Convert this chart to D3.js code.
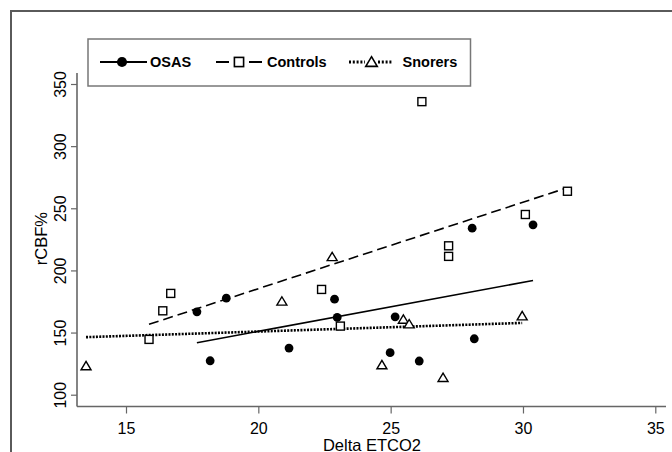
<!DOCTYPE html>
<html>
<head>
<meta charset="utf-8">
<script src="https://cdn.jsdelivr.net/npm/d3@7"></script>
<style>
  body { margin: 0; background: #fff; }
  svg { font-family: "Liberation Sans", Arial, sans-serif; }
</style>
</head>
<body>
<svg width="672" height="452"></svg>
<script>
// values
var osasX = [17.68, 18.79, 18.18, 21.16, 22.88, 22.98, 28.08, 30.38, 25.17, 28.16, 24.98, 26.08];
var osasY = [166.7, 177.7, 127.3, 137.5, 176.9, 162.2, 234.0, 236.7, 162.7, 145.0, 133.8, 127.1];

var controlsX = [16.69, 16.39, 15.87, 22.39, 23.10, 26.18, 31.68, 30.09, 27.19, 27.19];
var controlsY = [181.5, 167.5, 144.5, 184.7, 155.2, 335.8, 263.7, 245.0, 219.8, 211.3];

var snorersX = [13.49, 20.89, 22.79, 25.48, 25.70, 29.97, 24.67, 26.98];
var snorersY = [123.1, 175.1, 210.9, 160.6, 156.8, 163.3, 123.9, 113.7];

var xTicks = [15, 20, 25, 30, 35];
var yTicks = [100, 150, 200, 250, 300, 350];

var svg = d3.select("svg");

var x = d3.scaleLinear().domain([15, 35]).range([126, 655.3]);
var y = d3.scaleLinear().domain([100, 350]).range([394.7, 84]);

function pairs(xs, ys) {
  return xs.map(function(v, i) { return {x: v, y: ys[i]}; });
}

// least squares fit over the group's own x range
function fit(pts) {
  var mx = d3.mean(pts, function(d) { return d.x; }),
      my = d3.mean(pts, function(d) { return d.y; });
  var sxy = d3.sum(pts, function(d) { return (d.x - mx) * (d.y - my); }),
      sxx = d3.sum(pts, function(d) { return (d.x - mx) * (d.x - mx); });
  var b = sxy / sxx, a = my - b * mx;
  var ext = d3.extent(pts, function(d) { return d.x; });
  return ext.map(function(v) { return {x: v, y: a + b * v}; });
}

var groups = [
  {name: "OSAS", pts: pairs(osasX, osasY), dash: null, width: 1.6, shape: "circle"},
  {name: "Controls", pts: pairs(controlsX, controlsY), dash: "10,5", width: 1.6, shape: "square"},
  {name: "Snorers", pts: pairs(snorersX, snorersY), dash: "2,1.3", width: 2.6, shape: "triangle"}
];

// outer frame (clipped at right and bottom)
svg.append("path")
  .attr("d", "M11,460 L11,11 L680,11")
  .attr("fill", "none")
  .attr("stroke", "#5a5a5a")
  .attr("stroke-width", 2);

// axes
var axisCol = "#666";
svg.append("line")
  .attr("x1", 77).attr("x2", 666).attr("y1", 406.5).attr("y2", 406.5)
  .attr("stroke", axisCol).attr("stroke-width", 1.6);
svg.append("line")
  .attr("x1", 77).attr("x2", 77).attr("y1", 73).attr("y2", 406.5)
  .attr("stroke", axisCol).attr("stroke-width", 1.6);

var xAxis = svg.append("g")
  .attr("transform", "translate(0,406.5)")
  .call(d3.axisBottom(x).tickValues(xTicks).tickSize(7).tickPadding(5));
xAxis.select(".domain").remove();
xAxis.selectAll("line").attr("stroke", axisCol).attr("stroke-width", 1.2);
xAxis.selectAll("text")
  .attr("fill", "#000")
  .style("font-size", "16px")
  .attr("dy", null)
  .attr("y", 27.5);

var yAxis = svg.append("g")
  .attr("transform", "translate(77,0)")
  .call(d3.axisLeft(y).tickValues(yTicks).tickSize(6));
yAxis.select(".domain").remove();
yAxis.selectAll("line").attr("stroke", axisCol).attr("stroke-width", 1.2);
yAxis.selectAll("text")
  .attr("fill", "#000")
  .style("font-size", "16px")
  .attr("x", null).attr("dy", null)
  .attr("text-anchor", "middle")
  .attr("transform", "translate(-11.5,0) rotate(-90)");

svg.append("text")
  .attr("x", 372).attr("y", 450.5)
  .attr("text-anchor", "middle")
  .style("font-size", "16.5px")
  .text("Delta ETCO2");

svg.append("text")
  .attr("transform", "translate(47.3,238.7) rotate(-90)")
  .attr("text-anchor", "middle")
  .style("font-size", "16.5px")
  .text("rCBF%");

// fit lines
var line = d3.line()
  .x(function(d) { return x(d.x); })
  .y(function(d) { return y(d.y); });

groups.forEach(function(g) {
  svg.append("path")
    .datum(fit(g.pts))
    .attr("d", line)
    .attr("fill", "none")
    .attr("stroke", "#000")
    .attr("stroke-width", g.width)
    .attr("stroke-dasharray", g.dash);
});

function marker(sel, shape, s) {
  s = s || 1;
  if (shape === "circle") {
    sel.append("circle").attr("r", 4.4 * s).attr("fill", "#000");
  } else if (shape === "square") {
    sel.append("rect")
      .attr("x", -4 * s).attr("y", -4 * s).attr("width", 8 * s).attr("height", 8 * s)
      .attr("fill", "#fff").attr("stroke", "#000").attr("stroke-width", 1.4 * s);
  } else {
    sel.append("path")
      .attr("d", "M0," + (-4.6 * s) + " L" + (5 * s) + "," + (3.8 * s) + " L" + (-5 * s) + "," + (3.8 * s) + " Z")
      .attr("fill", "#fff").attr("stroke", "#000").attr("stroke-width", 1.4 * s);
  }
}

groups.forEach(function(g) {
  svg.selectAll(".pt-" + g.name)
    .data(g.pts)
    .enter()
    .append("g")
    .attr("class", "pt-" + g.name)
    .attr("transform", function(d) {
      return "translate(" + x(d.x) + "," + y(d.y) + ")";
    })
    .each(function() { marker(d3.select(this), g.shape); });
});

// legend
var legend = svg.append("g");
legend.append("rect")
  .attr("x", 88).attr("y", 39).attr("width", 382.5).attr("height", 47)
  .attr("fill", "#fff").attr("stroke", "#777").attr("stroke-width", 1.5);

var keys = [
  {seg: [[100, 147]], mark: 122, text: 150},
  {seg: [[216, 229], [249, 262]], mark: 239, text: 267},
  {seg: [[349, 365], [378, 392]], mark: 371.5, text: 402.5}
];
var ly = 62;
groups.forEach(function(g, i) {
  var k = keys[i];
  k.seg.forEach(function(s) {
    legend.append("line")
      .attr("x1", s[0]).attr("x2", s[1]).attr("y1", ly).attr("y2", ly)
      .attr("stroke", "#000")
      .attr("stroke-width", g.shape === "triangle" ? 2.8 : 2)
      .attr("stroke-dasharray", g.shape === "triangle" ? "2,1.8" : null);
  });
  var m = legend.append("g").attr("transform", "translate(" + k.mark + "," + ly + ")");
  marker(m, g.shape, 1.15);
  legend.append("text")
    .attr("x", k.text).attr("y", ly + 5)
    .style("font-size", "14.5px")
    .style("font-weight", "bold")
    .text(g.name);
});
</script>
</body>
</html>
